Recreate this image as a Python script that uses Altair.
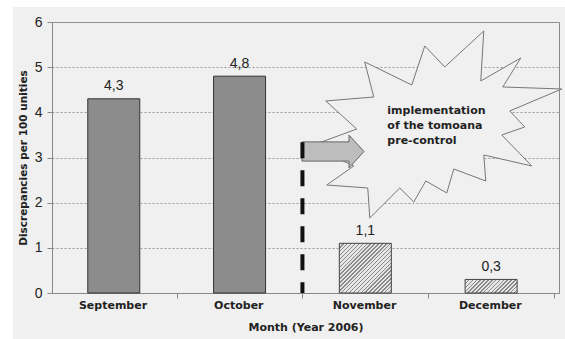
import math
import altair as alt
import pandas as pd

# ---------------- data ----------------
months = ["September", "October", "November", "December"]
values = [4.3, 4.8, 1.1, 0.3]
value_labels = ["4,3", "4,8", "1,1", "0,3"]
hatched = [False, False, True, True]

y_axis_title = "Discrepancies per 100 unities"
x_axis_title = "Month (Year 2006)"
note_lines = ["implementation", "of the tomoana", "pre-control"]

# annotation anchors (data coordinates: x = month index, y = value)
boundary_x = 1.5
boundary_top = 3.34
burst_x, burst_y = 2.564, 3.731
arrow_x, arrow_y = 1.743, 3.133
note_x, note_y = 2.175, 4.17

# ---------------- layout / style ----------------
W, H = 507, 271
X_MIN, X_MAX = -0.4514, 3.5
STEP = W / (X_MAX - X_MIN)
BAR_W = 52
BG = "#f0f0f0"
BOLD_FONT = "DejaVu Sans"
NUM_FONT = "Liberation Sans"

df = pd.DataFrame({
    "idx": list(range(len(months))),
    "month": months,
    "value": values,
    "label": value_labels,
    "hatched": hatched,
})

xs = alt.Scale(domain=[X_MIN, X_MAX], nice=False, zero=False)
ys = alt.Scale(domain=[0, 6], nice=False)

label_expr = "[" + ",".join("'" + m + "'" for m in months) + "][floor(datum.value)]"
x_axis = alt.Axis(
    values=[0.5, 1.5, 2.5, 3.5], labelExpr=label_expr, labelOffset=-STEP / 2,
    grid=False, tickSize=5, tickColor="#888", domainColor="#888",
    labelFont=BOLD_FONT, labelFontWeight="bold", labelFontSize=11, labelColor="#222",
    labelPadding=1, labelFlush=False, labelOverlap=False, labelBound=False,
    titleFont=BOLD_FONT, titleFontWeight="bold", titleFontSize=11, titleColor="#222",
    titlePadding=11,
)
y_axis = alt.Axis(
    values=[0, 1, 2, 3, 4, 5, 6], grid=True, gridColor="#999", gridDash=[2, 2],
    tickSize=5, tickColor="#888", domainColor="#888",
    labelFont=NUM_FONT, labelFontSize=14, labelColor="#222", labelPadding=5,
    titleFont=BOLD_FONT, titleFontWeight="bold", titleFontSize=10.5, titleColor="#222",
    titlePadding=6,
)


def X(field):
    return alt.X(field, type="quantitative", scale=xs, axis=x_axis, title=x_axis_title)


def Y(field):
    return alt.Y(field, type="quantitative", scale=ys, axis=y_axis, title=y_axis_title)


def hatch_gradient(value):
    w = BAR_W
    h = value * H / 6
    r = h / w
    a = (1 + r) / (1 + r * r)
    n = max(2, round((w + h) / math.sqrt(2) / 2.8))
    dark, light, frac = "#8a8a8a", "#e6e6e6", 0.38
    stops = []
    for k in range(n):
        o0 = k / n
        o1 = (k + frac) / n
        o2 = (k + 1) / n
        stops += [
            {"offset": o0, "color": dark},
            {"offset": o1, "color": dark},
            {"offset": o1, "color": light},
            {"offset": o2, "color": light},
        ]
    return {"gradient": "linear", "x1": 0, "y1": 0, "x2": a, "y2": a * r, "stops": stops}


# white margin strips (outside the grey chart area)
one = pd.DataFrame({"k": [0]})
strip_top = alt.Chart(one).mark_rect(fill="white").encode(
    x=alt.value(-52), x2=alt.value(W + 6), y=alt.value(-22), y2=alt.value(-15))
strip_left = alt.Chart(one).mark_rect(fill="white").encode(
    x=alt.value(-52), x2=alt.value(-39), y=alt.value(-22), y2=alt.value(H + 46))

solid = alt.Chart(df[~df["hatched"]]).mark_bar(
    width=BAR_W, fill="#8c8c8c", stroke="#333", strokeWidth=1
).encode(x=X("idx"), y=Y("value"))

hatch_layers = []
for _, row in df[df["hatched"]].iterrows():
    hatch_layers.append(
        alt.Chart(df[df["idx"] == row["idx"]]).mark_bar(
            width=BAR_W, fill=hatch_gradient(row["value"]), stroke="#444", strokeWidth=1
        ).encode(x=X("idx"), y=Y("value"))
    )

texts = alt.Chart(df).mark_text(
    font=NUM_FONT, fontSize=14, color="#222", baseline="alphabetic", dy=-8.5
).encode(x=X("idx"), y=Y("value"), text="label:N")

# starburst shape (normalised to [-1, 1])
burst_pts = [(329, 101), (377, 97), (368, 62), (415, 85), (428, 46), (448, 67),
             (487, 31), (484, 81), (524, 58), (506, 87), (565, 89), (513, 111),
             (528, 127), (505, 135), (535, 166), (487, 155), (489, 181), (457, 169),
             (450, 193), (429, 181), (417, 202), (403, 188), (373, 218), (371, 188),
             (330, 185), (357, 166), (314, 146), (360, 129)]
bx = [p[0] for p in burst_pts]
by = [p[1] for p in burst_pts]
bcx, bcy = (min(bx) + max(bx)) / 2, (min(by) + max(by)) / 2
bhalf = max(max(bx) - bcx, max(by) - bcy)
burst_path = "M" + " L".join(
    f"{(x - bcx) / bhalf:.4f},{(y - bcy) / bhalf:.4f}" for x, y in burst_pts) + " Z"
burst_size = (2 * bhalf) ** 2

burst = alt.Chart(pd.DataFrame({"x": [burst_x], "y": [burst_y]})).mark_point(
    shape=burst_path, size=burst_size, filled=True, fill=BG, stroke="#777",
    strokeWidth=1, opacity=1
).encode(x=X("x"), y=Y("y"))

arrow_path = ("M-1,-0.31 L0.516,-0.31 L0.516,-0.53 L1,0 L0.516,0.53 "
              "L0.516,0.31 L-1,0.31 Z")
arrow = alt.Chart(pd.DataFrame({"x": [arrow_x], "y": [arrow_y]})).mark_point(
    shape=arrow_path, size=62 ** 2, filled=True, fill="#bdbdbd", stroke="#666",
    strokeWidth=1, opacity=1
).encode(x=X("x"), y=Y("y"))

boundary = alt.Chart(pd.DataFrame({"x": [boundary_x], "y": [boundary_top], "y2": [0]})).mark_rule(
    color="#111", strokeWidth=4, strokeDash=[16, 12]
).encode(x=X("x"), y=Y("y"), y2="y2")

note = alt.Chart(pd.DataFrame({"x": [note_x], "y": [note_y], "t": ["\n".join(note_lines)]})).mark_text(
    font=BOLD_FONT, fontWeight="bold", fontSize=11, color="#222", align="left",
    baseline="top", lineBreak="\n", lineHeight=15
).encode(x=X("x"), y=Y("y"), text="t:N")

chart = alt.layer(
    strip_top, strip_left, solid, *hatch_layers, texts, burst, arrow, boundary, note
).properties(
    width=W, height=H, background=BG,
    padding={"left": 52, "top": 22, "right": 6, "bottom": 46},
    autosize=alt.AutoSizeParams(type="none"),
).configure_view(stroke="#888", strokeWidth=1)

chart.save("out.html", embed_options={"renderer": "svg", "actions": False})
